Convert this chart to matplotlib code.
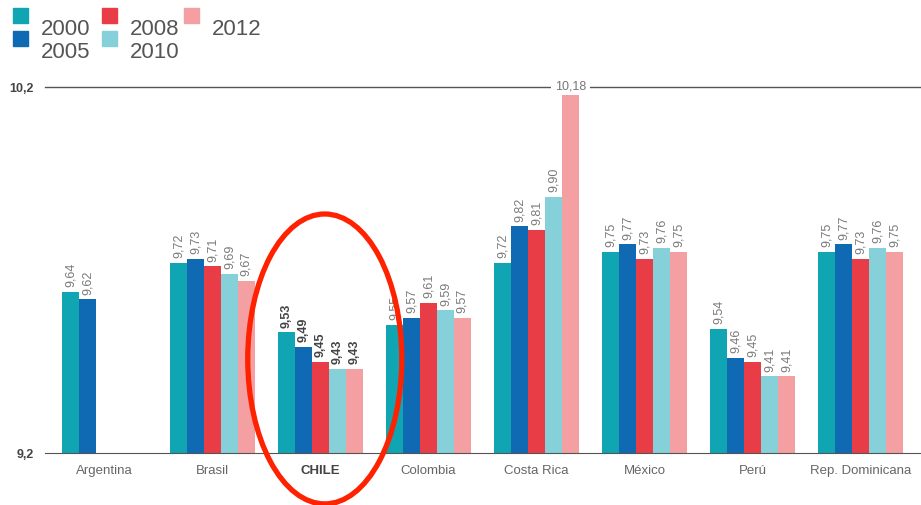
import numpy as np
import matplotlib.pyplot as plt
from matplotlib.patches import Rectangle, Ellipse

countries = ["Argentina", "Brasil", "CHILE", "Colombia", "Costa Rica",
             "México", "Perú", "Rep. Dominicana"]
years = ["2000", "2005", "2008", "2010", "2012"]
v2000 = [9.64, 9.72, 9.53, 9.55, 9.72, 9.75, 9.54, 9.75]
v2005 = [9.62, 9.73, 9.49, 9.57, 9.82, 9.77, 9.46, 9.77]
v2008 = [np.nan, 9.71, 9.45, 9.61, 9.81, 9.73, 9.45, 9.73]
v2010 = [np.nan, 9.69, 9.43, 9.59, 9.90, 9.76, 9.41, 9.76]
v2012 = [np.nan, 9.67, 9.43, 9.57, 10.18, 9.75, 9.41, 9.75]
series = [v2000, v2005, v2008, v2010, v2012]
colors = ["#10A5B2", "#1069B3", "#E83C47", "#86D0DA", "#F49FA1"]

plt.rcParams['font.family'] = ['Liberation Sans', 'DejaVu Sans']

W, H = 921, 506
fig = plt.figure(figsize=(W / 100, H / 100), dpi=100)
ax = fig.add_axes([45 / W, 52 / H, 1 - 45 / W, (454 - 88) / H])

x = np.arange(len(countries))
bw = 0.157
for i, (vals, c) in enumerate(zip(series, colors)):
    xs = x + (i - 2) * bw
    ax.bar(xs, np.array(vals) - 9.2, bottom=9.2, width=bw, color=c, zorder=2)
    for xi, v, name in zip(xs, vals, countries):
        if np.isnan(v):
            continue
        lab = f"{v:.2f}".replace(".", ",")
        if v > 10.1:
            ax.text(xi, v + 0.025, lab, ha="center", va="center", fontsize=9,
                    color="#777777", zorder=5,
                    bbox=dict(facecolor="white", edgecolor="none", pad=3))
            continue
        bold = name == "CHILE"
        ax.annotate(lab, (xi, v), xytext=(0, 4), textcoords="offset points",
                    rotation=90, ha="center", va="bottom", fontsize=9,
                    color="#444444" if bold else "#7a7a7a",
                    fontweight="bold" if bold else "normal")

ax.set_ylim(9.2, 10.2)
ax.set_xlim(-0.55, 7.56)
ax.axhline(10.2, color="#555555", lw=1, clip_on=False, zorder=1)
for s in ["top", "right", "left"]:
    ax.spines[s].set_visible(False)
ax.spines["bottom"].set_color("#555555")
ax.set_yticks([9.2, 10.2])
ax.set_yticklabels(["9,2", "10,2"], fontsize=9, fontweight="bold", color="#444444")
ax.tick_params(axis="y", length=0, pad=8)
ax.set_xticks(x)
ax.set_xticklabels(countries, fontsize=9.5, color="#666666")
ax.tick_params(axis="x", length=0, pad=8)
ax.get_xticklabels()[2].set_fontweight("bold")
ax.get_xticklabels()[2].set_color("#444444")

# red highlight around Chile
ax.add_patch(Ellipse((2.04, 9.457), 1.426, 0.792, fill=False, edgecolor="#FF2200",
                     lw=3.8, clip_on=False, zorder=6))

# legend
pos = [(0, 0), (0, 1), (1, 0), (1, 1), (2, 0)]
colx = [13, 102, 184]
textx = [41, 130, 212]
for (cidx, r), yr, c in zip(pos, years, colors):
    top = 9 + r * 23
    fig.patches.append(Rectangle((colx[cidx] / W, 1 - (top + 15) / H), 15 / W, 15 / H,
                                 transform=fig.transFigure, color=c))
    fig.text(textx[cidx] / W, 1 - (top + 26) / H, yr, fontsize=16, color="#555555",
             ha="left", va="baseline")

fig.savefig("out.png", dpi=100)
